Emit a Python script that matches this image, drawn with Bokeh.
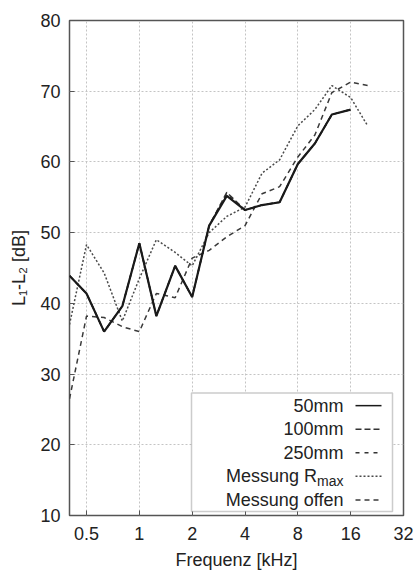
from bokeh.plotting import figure
from bokeh.models import Range1d, LinearScale, FixedTicker, Label, BoxAnnotation
from bokeh.embed import file_html
from bokeh.resources import INLINE

# ---------------- data ----------------
freq_khz = [0.4, 0.5, 0.63, 0.8, 1.0, 1.25, 1.6, 2.0, 2.5, 3.15, 4.0, 5.0, 6.3, 8.0, 10.0, 12.5, 16.0, 20.0]
sim_freq_khz = [0.4, 0.5, 0.63, 0.8, 1.0, 1.25, 1.6, 2.0, 2.5, 3.15, 4.0, 5.0, 6.3, 8.0, 10.0, 12.5, 16.0]

l_50mm = [43.9, 41.4, 36.0, 39.6, 48.5, 38.2, 45.3, 40.9, 51.0, 55.2, 53.2, 53.9, 54.3, 59.7, 62.6, 66.7, 67.4]
l_100mm = [43.9, 41.4, 36.0, 39.6, 48.5, 38.2, 45.3, 40.9, 51.0, 55.7, 53.2, 53.9, 54.3, 59.7, 62.6, 66.7, 67.4]
l_250mm = [43.9, 41.4, 36.0, 39.6, 48.5, 38.2, 45.3, 40.9, 51.0, 55.5, 53.2, 53.9, 54.3, 59.7, 62.6, 66.7, 67.4]
l_rmax = [37.0, 48.3, 44.3, 37.5, 43.5, 49.0, 47.2, 45.3, 50.0, 52.3, 53.6, 58.4, 60.3, 65.1, 67.4, 70.8, 69.1, 65.1]
l_offen = [26.5, 38.2, 38.0, 36.7, 36.0, 41.4, 40.8, 46.4, 47.5, 49.4, 51.0, 55.5, 56.5, 60.7, 63.8, 69.8, 71.3, 70.8]

x_ticks = [0.5, 1, 2, 4, 8, 16, 32]
x_tick_labels = ["0.5", "1", "2", "4", "8", "16", "32"]
y_ticks = [10, 20, 30, 40, 50, 60, 70, 80]

x_title = "Frequenz [kHz]"
y_title = "L\u2081-L\u2082 [dB]"
legend_labels = ["50mm", "100mm", "250mm", "Messung R", "Messung offen"]
legend_sub = "max"

# ---------------- layout / style ----------------
FONT = "Liberation Sans"
W, H = 416, 572
BL, BR, BT, BB = 69, 13, 20, 55
FW, FH = W - BL - BR, H - BT - BB
GRID = "#c4c4c4"
BORDER = "#555555"
TXT = "#222222"

p = figure(
    width=W, height=H,
    x_axis_type="log",
    x_range=Range1d(0.4, 32), y_range=Range1d(10, 80),
    output_backend="svg", toolbar_location=None,
    min_border_left=BL, min_border_right=BR, min_border_top=BT, min_border_bottom=BB,
    background_fill_color="white", border_fill_color="white",
)
p.extra_x_ranges = {"px": Range1d(0, FW)}
p.extra_y_ranges = {"px": Range1d(0, FH)}
p.extra_x_scales = {"px": LinearScale()}
p.extra_y_scales = {"px": LinearScale()}

p.outline_line_color = BORDER
p.outline_line_width = 1.5

p.xaxis.ticker = FixedTicker(ticks=x_ticks)
p.xaxis.major_label_overrides = {t: l for t, l in zip(x_ticks, x_tick_labels)}
p.yaxis.ticker = FixedTicker(ticks=y_ticks)

for ax in (p.xaxis[0], p.yaxis[0]):
    ax.axis_line_color = None
    ax.major_tick_in = 5
    ax.major_tick_out = 0
    ax.major_tick_line_color = BORDER
    ax.minor_tick_line_color = None
    ax.major_label_text_font = FONT
    ax.major_label_text_font_size = "18px"
    ax.major_label_text_color = TXT
    ax.axis_label_text_font = FONT
    ax.axis_label_text_font_size = "18px"
    ax.axis_label_text_font_style = "normal"
    ax.axis_label_text_color = TXT

p.xaxis.axis_label = x_title
p.yaxis.axis_label = y_title
p.xaxis.major_label_standoff = 11
p.xaxis.axis_label_standoff = 7
p.yaxis.major_label_standoff = 9
p.yaxis.axis_label_standoff = 8

for g in (p.xgrid[0], p.ygrid[0]):
    g.grid_line_color = GRID
    g.grid_line_dash = "2 2"
    g.grid_line_width = 1

# ---------------- series ----------------
p.line(freq_khz, l_offen, line_color="#3a3a3a", line_width=1.5, line_dash="5 4")
p.line(freq_khz, l_rmax, line_color="#4a4a4a", line_width=1.5, line_dash="2 2")
p.line(sim_freq_khz, l_250mm, line_color="#333333", line_width=1.5, line_dash="4 5")
p.line(sim_freq_khz, l_100mm, line_color="#333333", line_width=1.5, line_dash="6 3")
p.line(sim_freq_khz, l_50mm, line_color="#1a1a1a", line_width=2.2)

# ---------------- legend (frame pixel coordinates) ----------------
box = BoxAnnotation(left=122, right=323, bottom=4, top=123,
                    x_range_name="px", y_range_name="px",
                    fill_color="white", fill_alpha=1.0,
                    line_color=BORDER, line_width=1.5)
p.add_layout(box)

row_y = [110.3, 86.5, 63.0, 39.5, 15.5]
text_right = 274
sub_w = 26.4
sample_x = [286, 312]
sample_styles = [
    dict(line_dash="solid", line_width=1.5, line_color="#1a1a1a"),
    dict(line_dash="6 3", line_width=1.5, line_color="#333333"),
    dict(line_dash="4 5", line_width=1.5, line_color="#333333"),
    dict(line_dash="2 2", line_width=1.5, line_color="#4a4a4a"),
    dict(line_dash="5 4", line_width=1.5, line_color="#3a3a3a"),
]

for i, (lab, yy) in enumerate(zip(legend_labels, row_y)):
    xr = text_right - sub_w if i == 3 else text_right
    p.add_layout(Label(x=xr, y=yy, text=lab, x_range_name="px", y_range_name="px",
                       text_align="right", text_baseline="middle",
                       text_font=FONT, text_font_size="18px", text_color=TXT))
    if i == 3:
        p.add_layout(Label(x=xr, y=yy - 5, text=legend_sub, x_range_name="px", y_range_name="px",
                           text_align="left", text_baseline="middle",
                           text_font=FONT, text_font_size="14px", text_color=TXT))
    p.line(sample_x, [yy, yy], x_range_name="px", y_range_name="px", level="overlay",
           **sample_styles[i])

open("out.html", "w").write(file_html(p, INLINE))
